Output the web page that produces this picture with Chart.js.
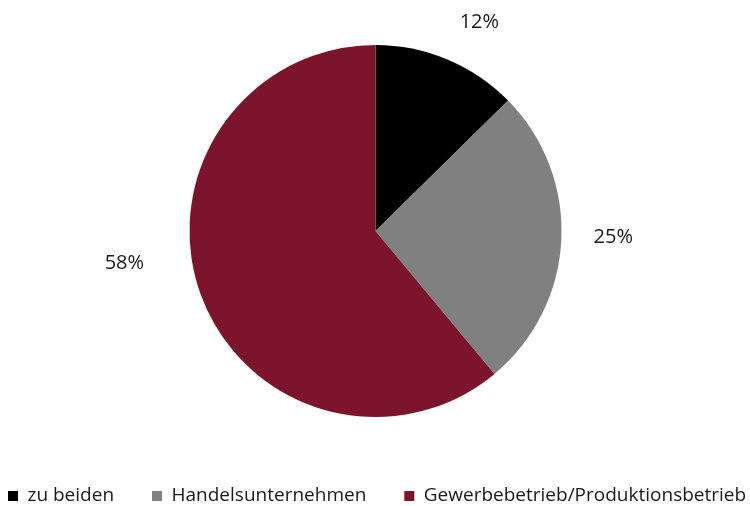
<!DOCTYPE html>
<html>
<head>
<meta charset="utf-8">
<script src="https://cdn.jsdelivr.net/npm/chart.js@4"></script>
<style>
  html, body { margin: 0; padding: 0; background: #ffffff; }
  #wrap { width: 750px; height: 506px; position: relative; }
</style>
</head>
<body>
<div id="wrap"><canvas id="c" width="750" height="506"></canvas></div>
<script>
const categories = ["zu beiden", "Handelsunternehmen", "Gewerbebetrieb/Produktionsbetrieb"];
const shares = [12, 25, 58];
const shareLabels = ["12%", "25%", "58%"];
const sliceColors = ["#000000", "#808080", "#7c152c"];

const FONT = "'Open Sans', 'Noto Sans', sans-serif";
const LEGEND_START_X = 8;

const outsideLabels = {
  id: 'outsideLabels',
  afterDatasetsDraw(chart, args, opts) {
    const ctx = chart.ctx;
    const meta = chart.getDatasetMeta(0);
    ctx.save();
    ctx.fillStyle = '#1a1a1a';
    ctx.font = '20px ' + FONT;
    ctx.textAlign = 'center';
    ctx.textBaseline = 'middle';
    meta.data.forEach((arc, i) => {
      const mid = (arc.startAngle + arc.endAngle) / 2;
      const r = arc.outerRadius * opts.radiusFactor[i];
      const x = arc.x + Math.cos(mid) * r + opts.shift[i][0];
      const y = arc.y + Math.sin(mid) * r + opts.shift[i][1];
      ctx.fillText(shareLabels[i], x, y);
    });
    ctx.restore();
  }
};

// keep the legend on one line, starting near the left edge as in the reference
const wideLegend = {
  id: 'wideLegend',
  beforeInit(chart) {
    const legend = chart.legend;
    if (!legend) return;
    const origFit = legend.fit;
    legend.fit = function () {
      const mw = this.maxWidth;
      this.maxWidth = mw + 200;
      origFit.call(this);
      this.maxWidth = mw;
      this.width = Math.min(this.width, mw);
    };
    const origDraw = legend.draw;
    legend.draw = function () {
      const l = this.left, r = this.right;
      const pad = this.options.labels.padding;
      const lw = this.lineWidths ? this.lineWidths[0] : 0;
      this.left = LEGEND_START_X - pad - 1;
      this.right = LEGEND_START_X + lw + 1;
      origDraw.call(this);
      this.left = l;
      this.right = r;
    };
  }
};

new Chart(document.getElementById('c'), {
  type: 'pie',
  data: {
    labels: categories,
    datasets: [{
      data: shares,
      backgroundColor: sliceColors,
      borderWidth: 0,
      radius: 186
    }]
  },
  options: {
    responsive: false,
    animation: false,
    layout: { padding: { top: 13.5, bottom: -9.5, left: 1, right: -1 } },
    plugins: {
      tooltip: { enabled: false },
      legend: {
        position: 'bottom',
        labels: {
          boxWidth: 10,
          boxHeight: 10,
          padding: 38,
          color: '#1a1a1a',
          font: { family: FONT, size: 19 }
        }
      },
      outsideLabels: {
        radiusFactor: [1.25, 1.28, 1.35],
        shift: [[14, 6], [0, -6], [-15, -53]]
      }
    }
  },
  plugins: [outsideLabels, wideLegend]
});
</script>
</body>
</html>
